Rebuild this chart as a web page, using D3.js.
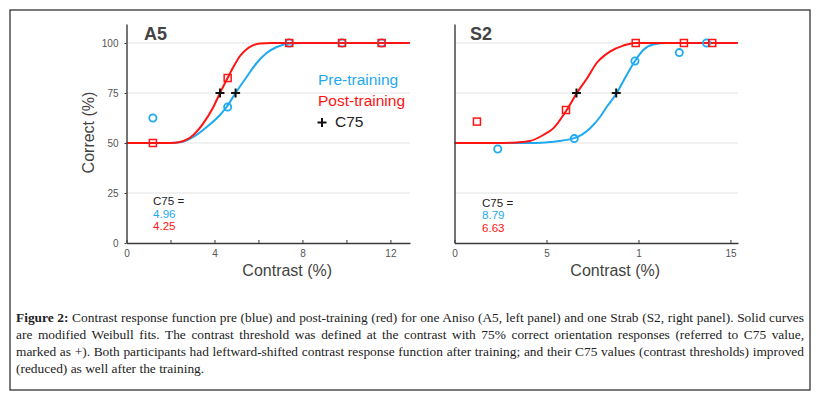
<!DOCTYPE html>
<html>
<head>
<meta charset="utf-8">
<script src="https://cdn.jsdelivr.net/npm/d3@7.9.0/dist/d3.min.js"></script>
<style>
  body { margin: 0; background: #fff; }
  svg { display: block; }
  text { font-family: "Liberation Sans", Arial, sans-serif; }
</style>
</head>
<body>
<svg id="fig" width="816" height="398"></svg>
<script>
// A5 (aniso) measured points
const a5Contrast = [1.2, 4.6, 7.4, 9.8, 11.6];
const a5Pre = [62.5, 68, 100, 100, 100];
const a5Post = [50, 82.5, 100, 100, 100];
// A5 Weibull fits
const a5PreFitX = [0, 2.0, 2.5, 3.04, 3.65, 4.25, 4.55, 4.96, 5.46, 5.92, 6.37, 6.83, 7.43, 8.0, 12.88];
const a5PreFitY = [50, 50, 50.5, 53, 58, 64, 68, 75, 83, 90, 95, 98, 99.8, 100, 100];
const a5PostFitX = [0, 2.0, 2.43, 3.04, 3.49, 3.95, 4.25, 4.55, 4.86, 5.16, 5.45, 5.75, 6.07, 6.6, 12.88];
const a5PostFitY = [50, 50, 50.5, 54, 59.8, 68, 75, 81.5, 88, 93.5, 96.8, 98.8, 99.7, 100, 100];
const a5C75 = [4.96, 4.25]; // pre, post

// S2 (strab) measured points
const s2PreContrast = [2.35, 6.51, 9.81, 12.22, 13.7];
const s2Pre = [47, 52.2, 91, 95.2, 100];
const s2PostContrast = [1.22, 6.06, 9.85, 12.47, 14.01];
const s2Post = [60.7, 66.5, 100, 100, 100];
// S2 Weibull fits
const s2PreFitX = [0, 4.28, 5.19, 6.46, 7.36, 7.91, 8.27, 8.82, 9.27, 9.81, 10.26, 10.8, 11.53, 15.4];
const s2PreFitY = [50, 50, 50.5, 52.3, 57.3, 63, 68, 75, 82.5, 91, 96.5, 99.3, 100, 100];
const s2PostFitX = [0, 2.47, 3.38, 4.1, 4.83, 5.37, 6.1, 6.65, 7.18, 7.73, 8.45, 9.17, 9.81, 15.4];
const s2PostFitY = [50, 50, 50.3, 51, 54, 57.3, 66.5, 75, 82, 90, 95.7, 98.7, 100, 100];
const s2C75 = [8.79, 6.63];

// ticks
const yTicks = [0, 25, 50, 75, 100];
const a5XTicks = [0, 2, 4, 6, 8, 10, 12];
const a5XLabels = ["0", "", "4", "", "8", "", "12"];
const s2XTicks = [0, 5, 10, 15];
const s2XLabels = ["0", "5", "1", "15"];

const legendLabels = ["Pre-training", "Post-training", "C75"];

const captionLines = [
  "Contrast response function pre (blue) and post-training (red) for one Aniso (A5, left panel) and one Strab (S2, right panel). Solid curves",
  "are modified Weibull fits. The contrast threshold was defined at the contrast with 75% correct orientation responses (referred to C75 value,",
  "marked as +). Both participants had leftward-shifted contrast response function after training; and their C75 values (contrast thresholds) improved",
  "(reduced) as well after the training."
];

const blue = "#1eaaf0";
const red = "#ff1414";
const axisColor = "#3a3a3a";

const svg = d3.select("#fig");
svg.append("rect").attr("width", 816).attr("height", 398).attr("fill", "#fff");

function drawPanel(p) {
  const x = d3.scaleLinear().domain([0, p.xMax]).range([p.left, p.right]);
  const y = d3.scaleLinear().domain([0, 109.5]).range([243, 24]);
  const g = svg.append("g");

  g.selectAll("line.grid")
    .data(yTicks.filter(d => d > 0))
    .join("line")
    .attr("class", "grid")
    .attr("x1", p.left).attr("x2", p.right)
    .attr("y1", d => y(d)).attr("y2", d => y(d))
    .attr("stroke", "#e3e3e3")
    .attr("stroke-width", 1);

  const line = d3.line()
    .x(d => x(d[0]))
    .y(d => y(d[1]))
    .curve(d3.curveMonotoneX);

  g.append("path")
    .datum(d3.zip(p.preFitX, p.preFitY))
    .attr("d", line)
    .attr("fill", "none")
    .attr("stroke", blue)
    .attr("stroke-width", 2);

  g.append("path")
    .datum(d3.zip(p.postFitX, p.postFitY))
    .attr("d", line)
    .attr("fill", "none")
    .attr("stroke", red)
    .attr("stroke-width", 2);

  g.selectAll("circle.pre")
    .data(d3.zip(p.preX, p.pre))
    .join("circle")
    .attr("class", "pre")
    .attr("cx", d => x(d[0]))
    .attr("cy", d => y(d[1]))
    .attr("r", 3.6)
    .attr("fill", "none")
    .attr("stroke", blue)
    .attr("stroke-width", 1.8);

  g.selectAll("rect.post")
    .data(d3.zip(p.postX, p.post))
    .join("rect")
    .attr("class", "post")
    .attr("x", d => x(d[0]) - 3.5)
    .attr("y", d => y(d[1]) - 3.5)
    .attr("width", 7)
    .attr("height", 7)
    .attr("fill", "none")
    .attr("stroke", red)
    .attr("stroke-width", 1.5);

  // C75 markers
  g.selectAll("path.c75")
    .data(p.c75)
    .join("path")
    .attr("class", "c75")
    .attr("d", d => `M${x(d) - 4.5},${y(75)}h9M${x(d)},${y(75) - 4.5}v9`)
    .attr("stroke", "#111")
    .attr("stroke-width", 2);

  // axes
  const xAxis = g.append("g")
    .attr("transform", "translate(0,243)")
    .call(d3.axisBottom(x)
      .tickValues(p.xTicks)
      .tickFormat((d, i) => p.xLabels[i])
      .tickSizeInner(-3)
      .tickSizeOuter(0)
      .tickPadding(7));

  const yAxis = g.append("g")
    .attr("transform", `translate(${p.left},0)`)
    .call(d3.axisLeft(y)
      .tickValues(yTicks)
      .tickSizeInner(p.yLabels ? 2 : 0)
      .tickSizeOuter(0)
      .tickPadding(6)
      .tickFormat(p.yLabels ? d3.format("d") : () => ""));

  [xAxis, yAxis].forEach(a => {
    a.select(".domain").attr("stroke", axisColor).attr("stroke-width", 1.4);
    a.selectAll(".tick line").attr("stroke", axisColor);
    a.selectAll(".tick text")
      .attr("fill", "#555")
      .style("font-family", '"Liberation Sans", Arial, sans-serif')
      .style("font-size", "10px");
  });

  g.append("text")
    .attr("x", p.titleX).attr("y", 40)
    .attr("fill", "#444")
    .style("font-size", "18px")
    .style("font-weight", "bold")
    .text(p.title);

  g.append("text")
    .attr("x", (p.left + p.right) / 2 + 19).attr("y", 276)
    .attr("text-anchor", "middle")
    .attr("fill", "#444")
    .style("font-size", "16px")
    .text("Contrast (%)");

  // C75 readout, one text per line
  const annLines = ["C75 =", p.c75[0].toFixed(2), p.c75[1].toFixed(2)];
  const annColors = ["#222", blue, red];
  g.selectAll("text.ann")
    .data(annLines)
    .join("text")
    .attr("class", "ann")
    .attr("x", p.annX)
    .attr("y", (d, i) => p.annY + i * 12.6)
    .attr("fill", (d, i) => annColors[i])
    .style("font-size", "11.6px")
    .text(d => d);

  return { x, y, g };
}

drawPanel({
  title: "A5", titleX: 144,
  left: 126.5, right: 410, xMax: 12.89,
  preX: a5Contrast, pre: a5Pre, postX: a5Contrast, post: a5Post,
  preFitX: a5PreFitX, preFitY: a5PreFitY, postFitX: a5PostFitX, postFitY: a5PostFitY,
  c75: a5C75, xTicks: a5XTicks, xLabels: a5XLabels, yLabels: true,
  annX: 153, annY: 205
});

drawPanel({
  title: "S2", titleX: 470,
  left: 454.5, right: 738, xMax: 15.41,
  preX: s2PreContrast, pre: s2Pre, postX: s2PostContrast, post: s2Post,
  preFitX: s2PreFitX, preFitY: s2PreFitY, postFitX: s2PostFitX, postFitY: s2PostFitY,
  c75: s2C75, xTicks: s2XTicks, xLabels: s2XLabels, yLabels: false,
  annX: 482, annY: 206.5
});

// y label
svg.append("text")
  .attr("transform", "translate(94,132.5) rotate(-90)")
  .attr("text-anchor", "middle")
  .attr("fill", "#444")
  .style("font-size", "16px")
  .text("Correct (%)");

// legend
const legend = svg.append("g").style("font-size", "15.5px");
legend.append("text").attr("x", 318).attr("y", 85).attr("fill", blue).text(legendLabels[0]);
legend.append("text").attr("x", 318).attr("y", 105.5).attr("fill", red).text(legendLabels[1]);
legend.append("path")
  .attr("d", "M317.5,122.5h9M322,118v9")
  .attr("stroke", "#111").attr("stroke-width", 2);
legend.append("text").attr("x", 335).attr("y", 127).attr("fill", "#222").text(legendLabels[2]);

// caption box
svg.append("rect")
  .attr("x", 10).attr("y", 10)
  .attr("width", 800).attr("height", 380)
  .attr("fill", "none")
  .attr("stroke", "#222")
  .attr("stroke-width", 1.2);

const capX = 16, capRight = 804;
captionLines.forEach((txt, i) => {
  const t = svg.append("text")
    .attr("x", capX)
    .attr("y", 321.5 + i * 17)
    .attr("fill", "#222")
    .style("font-family", '"Liberation Serif", "DejaVu Serif", serif')
    .style("font-size", "13.4px");
  if (i === 0) {
    t.append("tspan").style("font-weight", "bold").text("Figure 2: ");
  }
  t.append("tspan").text(txt);
  if (i < captionLines.length - 1) {
    const natural = t.node().getComputedTextLength();
    const spaces = (t.text().match(/ /g) || []).length;
    const extra = (capRight - capX - natural) / spaces;
    t.attr("word-spacing", extra);
  }
});
</script>
</body>
</html>
